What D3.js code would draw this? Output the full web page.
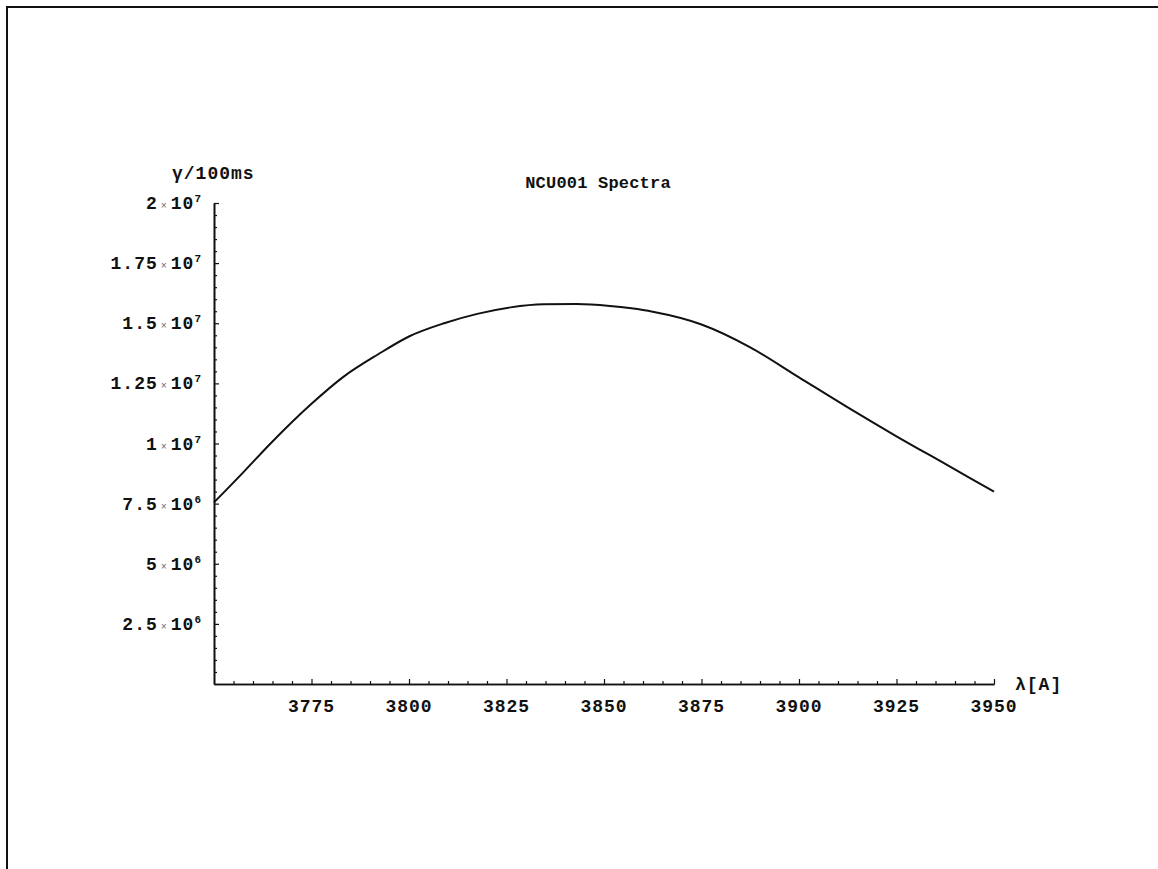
<!DOCTYPE html>
<html>
<head>
<meta charset="utf-8">
<script src="https://cdn.jsdelivr.net/npm/d3@7"></script>
<style>
  html, body { margin: 0; padding: 0; background: #fff; }
  svg text { font-family: "Liberation Mono", "DejaVu Sans Mono", monospace; font-weight: bold; fill: #111; letter-spacing: 1px; }
</style>
</head>
<body>
<div id="chart"></div>
<script>
// -------- Data --------
const wavelengths = [3750, 3757.5, 3764.5, 3775, 3783, 3792, 3800, 3809, 3817.5, 3826,
  3834.5, 3843, 3851.5, 3857, 3862.5, 3875, 3887.5, 3900, 3912.5, 3925, 3937.5, 3950];
const counts = [7.55e6, 8.8e6, 1.0e7, 1.165e7, 1.275e7, 1.37e7, 1.445e7, 1.5e7, 1.539e7, 1.566e7,
  1.579e7, 1.58e7, 1.572e7, 1.562e7, 1.548e7, 1.495e7, 1.4e7, 1.275e7, 1.15e7, 1.03e7, 9.15e6, 8.0e6];

const xTickLabels = [3775, 3800, 3825, 3850, 3875, 3900, 3925, 3950];
const yTickLabels = [
  { v: 2.5e6, m: "2.5", e: "6" },
  { v: 5e6, m: "5", e: "6" },
  { v: 7.5e6, m: "7.5", e: "6" },
  { v: 1e7, m: "1", e: "7" },
  { v: 1.25e7, m: "1.25", e: "7" },
  { v: 1.5e7, m: "1.5", e: "7" },
  { v: 1.75e7, m: "1.75", e: "7" },
  { v: 2e7, m: "2", e: "7" }
];

const title = "NCU001 Spectra";
const yLabel = "\u03b3/100ms";
const xLabel = "\u03bb[A]";

// -------- Layout --------
const W = 1158, H = 869;
const fs = 18;

const svg = d3.select("#chart").append("svg")
  .attr("width", W)
  .attr("height", H);

// page frame (top + left edge only)
svg.append("path")
  .attr("d", `M7,${H} L7,7 L${W},7`)
  .attr("fill", "none")
  .attr("stroke", "#111")
  .attr("stroke-width", 2);

const x = d3.scaleLinear().domain([3750, 3950]).range([214, 994]);
const y = d3.scaleLinear().domain([0, 2e7]).range([684, 203]);

// -------- Axes --------
const xMinor = d3.range(3755, 3950, 5).filter(d => d % 25 !== 0);
const yMinor = d3.range(5e5, 2e7, 5e5).filter(d => d % 2.5e6 !== 0);

function styleAxis(g) {
  g.selectAll("text").remove();
  g.select(".domain").attr("stroke", "#111").attr("stroke-width", 1.6);
  g.selectAll(".tick line").attr("stroke", "#111").attr("stroke-width", 1.2);
}

svg.append("g")
  .attr("transform", `translate(0,${y(0)})`)
  .call(d3.axisBottom(x).tickValues(xTickLabels).tickSizeInner(-5).tickSizeOuter(0))
  .call(styleAxis);

svg.append("g")
  .attr("transform", `translate(0,${y(0)})`)
  .call(d3.axisBottom(x).tickValues(xMinor).tickSizeInner(-3).tickSizeOuter(0))
  .call(styleAxis);

svg.append("g")
  .attr("transform", `translate(${x(3750)},0)`)
  .call(d3.axisLeft(y).tickValues(yTickLabels.map(d => d.v)).tickSizeInner(-5).tickSizeOuter(0))
  .call(styleAxis);

svg.append("g")
  .attr("transform", `translate(${x(3750)},0)`)
  .call(d3.axisLeft(y).tickValues(yMinor).tickSizeInner(-3).tickSizeOuter(0))
  .call(styleAxis);

// -------- Tick labels --------
svg.append("g").selectAll("text")
  .data(xTickLabels)
  .join("text")
  .attr("x", d => x(d))
  .attr("y", y(0) + 28)
  .attr("text-anchor", "middle")
  .attr("font-size", fs)
  .text(d => d);

const yl = svg.append("g").selectAll("text")
  .data(yTickLabels)
  .join("text")
  .attr("x", 202)
  .attr("y", d => y(d.v) + 6)
  .attr("text-anchor", "end")
  .attr("font-size", fs);

yl.append("tspan").text(d => d.m);
yl.append("tspan").attr("font-size", 10).attr("font-weight", "normal")
  .style("fill", "#666").attr("dx", 3).text("\u00d7");
yl.append("tspan").attr("dx", 3).text("10");
yl.append("tspan").attr("font-size", 11).attr("dy", -7).text(d => d.e);

// -------- Curve --------
const line = d3.line()
  .x((d, i) => x(wavelengths[i]))
  .y(d => y(d))
  .curve(d3.curveMonotoneX);

svg.append("path")
  .datum(counts)
  .attr("d", line)
  .attr("fill", "none")
  .attr("stroke", "#111")
  .attr("stroke-width", 2);

// -------- Titles --------
svg.append("text")
  .attr("x", 598)
  .attr("y", 188)
  .attr("text-anchor", "middle")
  .attr("font-size", 17)
  .style("letter-spacing", "0.2px")
  .text(title);

svg.append("text")
  .attr("x", 172)
  .attr("y", 179)
  .attr("font-size", fs)
  .text(yLabel);

svg.append("text")
  .attr("x", 1015)
  .attr("y", 690)
  .attr("font-size", fs)
  .text(xLabel);
</script>
</body>
</html>
